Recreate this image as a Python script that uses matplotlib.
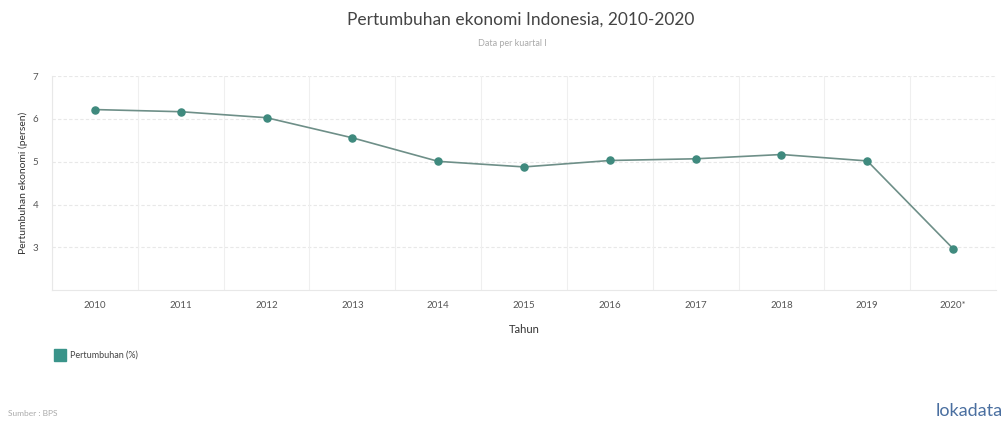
import matplotlib
matplotlib.use("Agg")
import matplotlib.pyplot as plt

plt.rcParams['font.family'] = ['Lato', 'DejaVu Sans']

years = ["2010", "2011", "2012", "2013", "2014", "2015", "2016", "2017", "2018", "2019", "2020*"]
growth = [6.22, 6.17, 6.03, 5.56, 5.01, 4.88, 5.03, 5.07, 5.17, 5.02, 2.97]
y_ticks = [3, 4, 5, 6, 7]

fig = plt.figure(figsize=(10.08, 4.28), dpi=100)
ax = fig.add_axes([0.0516, 0.322, 0.9365, 0.5])

x = list(range(len(years)))
ax.plot(x, growth, color='#6e8f88', lw=1.2, zorder=3)
ax.scatter(x, growth, s=26, color='#3f8a7e', zorder=4)

ax.set_xlim(-0.5, len(years) - 0.5)
ax.set_ylim(2, 7)
ax.set_yticks(y_ticks)
ax.set_xticks(x)
ax.set_xticklabels(years, fontsize=7, color='#555555')
ax.tick_params(axis='y', labelsize=7, colors='#555555', length=0, pad=10)
ax.tick_params(axis='x', length=0, pad=8)

for yv in y_ticks:
    ax.axhline(yv, color='#e8e8e8', lw=0.8, ls=(0, (3, 2)), zorder=1)
for b in range(len(years) + 1):
    ax.axvline(b - 0.5, color='#efefef', lw=0.8, zorder=1)

for s in ax.spines.values():
    s.set_visible(False)
ax.spines['left'].set_visible(True)
ax.spines['left'].set_color('#e8e8e8')
ax.spines['bottom'].set_visible(True)
ax.spines['bottom'].set_color('#e8e8e8')

ax.set_ylabel("Pertumbuhan ekonomi (persen)", fontsize=7.5, color='#333333', labelpad=3)
ax.set_xlabel("Tahun", fontsize=8, color='#333333', labelpad=10)

fig.text(0.517, 0.955, "Pertumbuhan ekonomi Indonesia, 2010-2020", ha='center', va='center',
         fontsize=12.5, color='#444444')
fig.text(0.508, 0.898, "Data per kuartal I", ha='center', va='center', fontsize=6.5, color='#aaaaaa')

fig.patches.append(plt.Rectangle((54 / 1008, 1 - 361 / 428), 12 / 1008, 12 / 428,
                                 transform=fig.transFigure, color='#3a948a', figure=fig))
fig.text(70 / 1008, 1 - 355 / 428, "Pertumbuhan (%)", ha='left', va='center', fontsize=6.5, color='#444444')

fig.text(8 / 1008, 1 - 413 / 428, "Sumber : BPS", ha='left', va='center', fontsize=6, color='#aaaaaa')
fig.text(1003 / 1008, 1 - 411 / 428, "lokadata", ha='right', va='center', fontsize=13,
         color='#4a6fa0')

fig.savefig("out.png", dpi=100, facecolor='white')
